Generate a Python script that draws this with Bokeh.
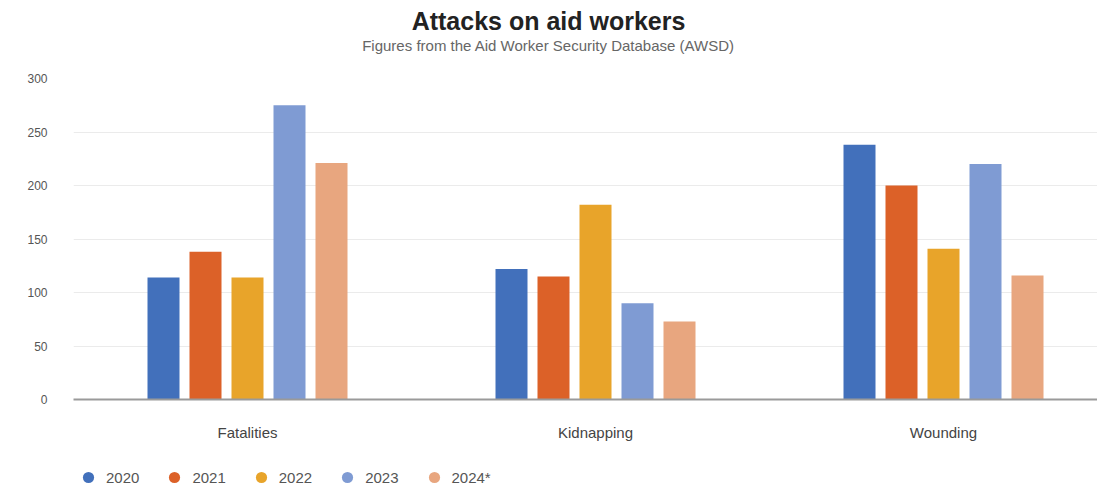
from bokeh.plotting import figure
from bokeh.models import (ColumnDataSource, Range1d, FixedTicker, Legend, LegendItem,
                          Label, NumeralTickFormatter)
from bokeh.layouts import column
from bokeh.transform import dodge
from bokeh.embed import file_html
from bokeh.resources import INLINE

categories = ["Fatalities", "Kidnapping", "Wounding"]
years = ["2020", "2021", "2022", "2023", "2024*"]
v2020 = [114, 122, 238]
v2021 = [138, 115, 200]
v2022 = [114, 182, 141]
v2023 = [275, 90, 220]
v2024 = [221, 73, 116]
colors = ["#4270bb", "#dc6128", "#e8a42a", "#7f9bd3", "#e8a67f"]
title_text = "Attacks on aid workers"
subtitle_text = "Figures from the Aid Worker Security Database (AWSD)"

series = [v2020, v2021, v2022, v2023, v2024]
pos = [i + 0.5 for i in range(len(categories))]
data = {"pos": pos, "cat": categories}
keys = []
for i, s in enumerate(series):
    k = "y%d" % i
    keys.append(k)
    data[k] = s
source = ColumnDataSource(data)

FONT = "Liberation Sans"
W = 1097
LEFT = 73  # frames of the stacked figures are aligned at this left edge

def blank(h):
    f = figure(width=W, height=h, output_backend="svg", toolbar_location=None,
               x_range=Range1d(0, 1), y_range=Range1d(0, 1),
               x_axis_location=None, y_axis_location=None,
               min_border_left=0, min_border_right=0, min_border_top=0, min_border_bottom=0,
               outline_line_color=None, background_fill_color="white", border_fill_color="white")
    f.grid.visible = False
    return f

# header with title and subtitle
hd = blank(70)
hd.add_layout(Label(x=548 - LEFT, y=50, x_units="screen", y_units="screen", text=title_text,
                    text_align="center", text_baseline="middle", text_font=FONT,
                    text_font_size="25px", text_font_style="bold", text_color="#222222"))
hd.add_layout(Label(x=548 - LEFT, y=25, x_units="screen", y_units="screen", text=subtitle_text,
                    text_align="center", text_baseline="middle", text_font=FONT,
                    text_font_size="15px", text_color="#666666"))

# main chart
p = figure(width=W, height=391, output_backend="svg", toolbar_location=None,
           x_range=Range1d(0, 1024 / 348), y_range=Range1d(0, 300),
           min_border_left=LEFT, min_border_right=0, min_border_top=8, min_border_bottom=62,
           outline_line_color=None, background_fill_color="white", border_fill_color="white")

pitch = 42 / 348
bw = 32 / 348
for i, k in enumerate(keys):
    off = (i - 2) * pitch
    p.vbar(x=dodge("pos", off, range=p.x_range), top=k, width=bw, bottom=0,
           source=source, fill_color=colors[i], line_color=None)

p.xaxis.ticker = FixedTicker(ticks=pos)
p.xaxis.major_label_overrides = {pos[i]: categories[i] for i in range(len(categories))}
p.xaxis.major_tick_line_color = None
p.xaxis.minor_tick_line_color = None
p.xaxis.axis_line_color = "#9a9a9a"
p.xaxis.axis_line_width = 2
p.xaxis.major_label_standoff = 18
p.xaxis.major_label_text_font = FONT
p.xaxis.major_label_text_font_size = "15px"
p.xaxis.major_label_text_color = "#444444"

p.yaxis.ticker = FixedTicker(ticks=[0, 50, 100, 150, 200, 250, 300])
p.yaxis.axis_line_color = None
p.yaxis.major_tick_line_color = None
p.yaxis.minor_tick_line_color = None
p.yaxis.major_label_standoff = 20
p.yaxis.major_label_text_font = FONT
p.yaxis.major_label_text_font_size = "12px"
p.yaxis.major_label_text_color = "#555555"
p.yaxis.formatter = NumeralTickFormatter(format="0")

p.xgrid.grid_line_color = None
p.ygrid.grid_line_color = "#ebebeb"
p.ygrid.grid_line_width = 1

# legend strip below the chart (proxy renderers sit outside the visible range)
lg = blank(30)
proxy = ColumnDataSource({"x": [-5], "y": [-5]})
items = []
for i, yr in enumerate(years):
    sr = lg.scatter(x="x", y="y", source=proxy, marker="circle", fill_color=colors[i],
                    line_color=None, size=12)
    items.append(LegendItem(label=yr, renderers=[sr], index=0))
legend = Legend(items=items, orientation="horizontal", location=(0, 0),
                glyph_width=30, glyph_height=28, label_standoff=3, spacing=20,
                padding=0, margin=0, border_line_color=None, background_fill_alpha=0,
                label_text_font=FONT, label_text_font_size="15px", label_text_color="#555555",
                label_height=28)
lg.add_layout(legend, "center")

open("out.html", "w").write(file_html(column(hd, p, lg, spacing=0), INLINE))
